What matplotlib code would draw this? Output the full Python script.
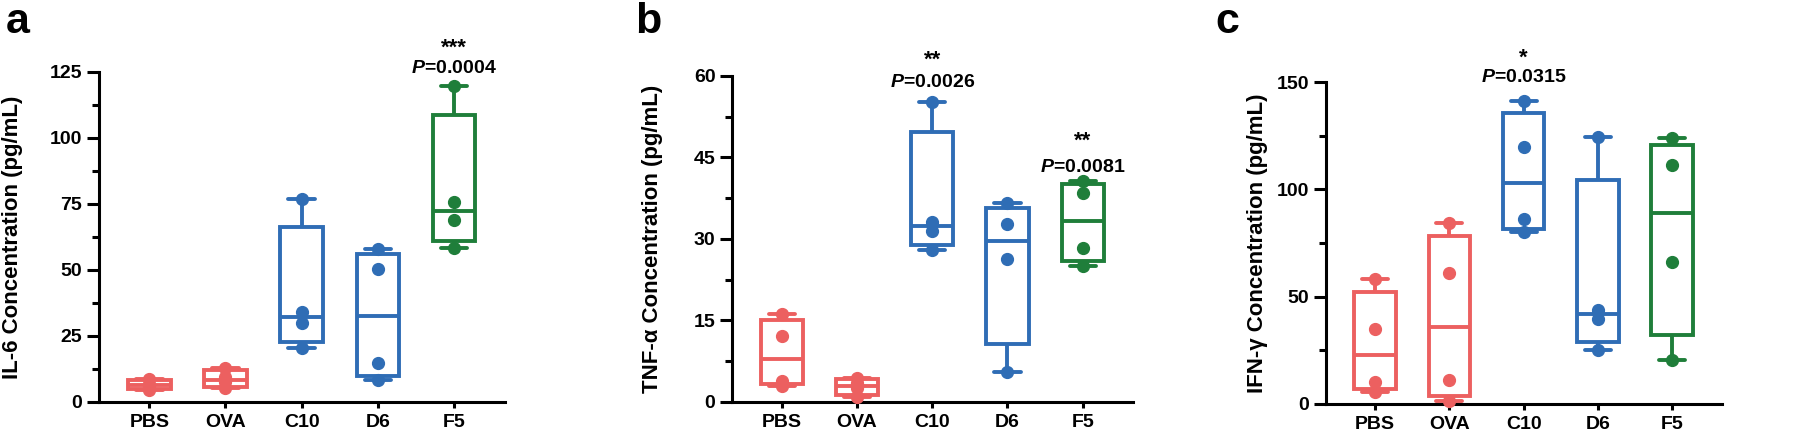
import numpy as np
import matplotlib
matplotlib.use('Agg')
import matplotlib.pyplot as plt

plt.rcParams['font.family'] = ['Liberation Sans', 'DejaVu Sans']
plt.rcParams['font.weight'] = 'bold'
plt.rcParams['mathtext.fontset'] = 'custom'
plt.rcParams['mathtext.it'] = 'Liberation Sans:italic:bold'
plt.rcParams['mathtext.rm'] = 'Liberation Sans:bold'

# groups and colours
groups = ['PBS', 'OVA', 'C10', 'D6', 'F5']
red = '#ec6060'
blue = '#2f6db5'
green = '#1f7e3a'
group_colors = [red, red, blue, blue, green]

# individual values (pg/mL)
il6 = [[4.7, 6.2, 6.8, 8.8],
       [5.3, 7.5, 9.5, 12.9],
       [20.4, 30.1, 34.0, 76.9],
       [8.4, 14.7, 50.3, 58.0],
       [58.5, 68.8, 75.9, 119.6]]
tnf = [[3.0, 3.9, 12.1, 16.2],
       [0.9, 2.5, 3.5, 4.4],
       [28.0, 31.4, 33.2, 55.1],
       [5.5, 26.3, 32.8, 36.7],
       [25.1, 28.3, 38.4, 40.6]]
ifn = [[5.6, 10.3, 35.1, 58.0],
       [1.2, 11.0, 61.2, 84.1],
       [79.9, 86.0, 119.5, 141.1],
       [25.0, 39.8, 44.0, 124.2],
       [20.7, 66.2, 111.3, 123.7]]

ylabels = ['IL-6 Concentration (pg/mL)', 'TNF-α Concentration (pg/mL)', 'IFN-γ Concentration (pg/mL)']
ymax = [125, 60, 150]
ymajor = [25, 15, 50]
panel_letters = ['a', 'b', 'c']

# significance labels: (group index, stars, P value)
sig_a = [(4, '***', '0.0004')]
sig_b = [(2, '**', '0.0026'), (4, '**', '0.0081')]
sig_c = [(2, '*', '0.0315')]

# layout (figure fractions / axes coords)
axes_rects = [[0.055, 0.078, 0.2256, 0.757],
              [0.4067, 0.078, 0.2228, 0.748],
              [0.7367, 0.0734, 0.22, 0.7385]]
label_x = [-0.187, -0.172, -0.146]
letter_x = [0.003, 0.353, 0.675]
# y of the P-text baseline and star baseline, in data units
sig_y = [[(124.5, 132.0)], [(58.0, 61.8), (42.3, 47.0)], [(150.0, 158.5)]]


def box_stats(vals):
    q1, med, q3 = np.percentile(vals, [25, 50, 75], method='weibull')
    return dict(med=med, q1=q1, q3=q3, whislo=min(vals), whishi=max(vals))


fig = plt.figure(figsize=(18, 4.36), dpi=100)

datasets = [il6, tnf, ifn]
sigs = [sig_a, sig_b, sig_c]
lw = 2.8

for k in range(3):
    ax = fig.add_axes(axes_rects[k])
    data = datasets[k]
    stats = [box_stats(v) for v in data]
    pos = np.arange(len(groups))
    bp = ax.bxp(stats, positions=pos, widths=0.56, capwidths=0.35,
                showfliers=False, patch_artist=True)
    for i, c in enumerate(group_colors):
        bp['boxes'][i].set(facecolor='white', edgecolor=c, linewidth=lw, zorder=2)
        bp['medians'][i].set(color=c, linewidth=lw, zorder=3)
        for j in (2 * i, 2 * i + 1):
            bp['whiskers'][j].set(color=c, linewidth=lw, zorder=1)
            bp['caps'][j].set(color=c, linewidth=lw, solid_capstyle='round', zorder=1)
        ax.plot(np.full(len(data[i]), pos[i]), data[i], 'o', color=c,
                ms=8.5, zorder=4, clip_on=False)

    ax.set_xlim(-0.66, 4.67)
    ax.set_ylim(0, ymax[k])
    ax.set_xticks(pos)
    ax.set_xticklabels(groups)
    ax.set_yticks(np.arange(0, ymax[k] + 1, ymajor[k]))
    ax.set_yticks(np.arange(ymajor[k] / 2, ymax[k], ymajor[k]), minor=True)
    for s in ['top', 'right']:
        ax.spines[s].set_visible(False)
    for s in ['left', 'bottom']:
        ax.spines[s].set_linewidth(2.2)
    ax.tick_params(axis='y', which='major', length=8.5, width=2.2, labelsize=14, pad=3.5)
    ax.tick_params(axis='y', which='minor', length=5, width=2.2)
    ax.tick_params(axis='x', length=4.3, width=2.2, labelsize=14, pad=4.2)
    ax.set_ylabel(ylabels[k], fontsize=16, fontweight='bold')
    ax.yaxis.set_label_coords(label_x[k], 0.5)

    for (gi, stars, p), (yp, ys) in zip(sigs[k], sig_y[k]):
        ax.text(gi, ys, stars, ha='center', va='baseline', fontsize=16,
                fontweight='bold', clip_on=False)
        ax.text(gi, yp, '$P$=' + p, ha='center', va='baseline', fontsize=14,
                fontweight='bold', clip_on=False)

    fig.text(letter_x[k], 0.924, panel_letters[k], fontsize=31, fontweight='bold',
             ha='left', va='baseline')

fig.savefig('out.png', dpi=100)
